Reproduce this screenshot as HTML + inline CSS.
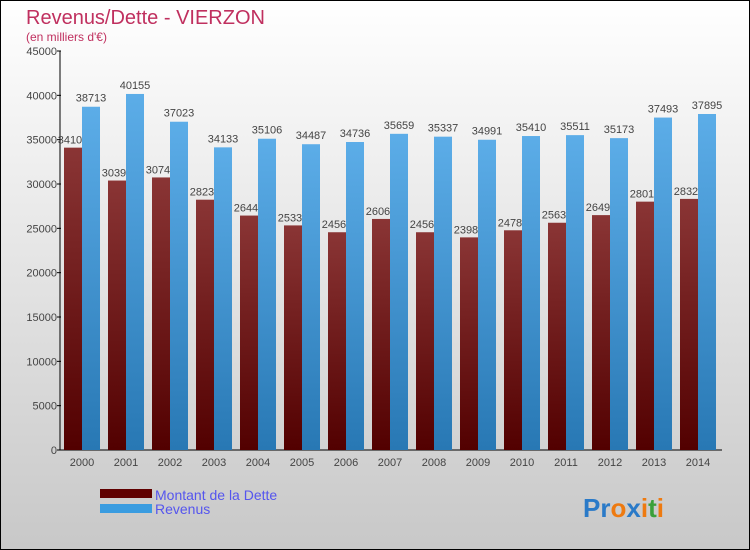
<!DOCTYPE html>
<html><head><meta charset="utf-8">
<style>
body{margin:0;width:750px;height:550px;overflow:hidden;font-family:"Liberation Sans",sans-serif}
svg{display:block}
</style></head><body>
<svg id="chart" width="750" height="550" xmlns="http://www.w3.org/2000/svg">
<defs>
<linearGradient id="bg" x1="0" y1="0" x2="0" y2="1"><stop offset="0" stop-color="#ffffff"/><stop offset="1" stop-color="#c8c8c8"/></linearGradient>
<linearGradient id="gd" x1="0" y1="0" x2="0" y2="1"><stop offset="0" stop-color="#8a3535"/><stop offset="1" stop-color="#520000"/></linearGradient>
<linearGradient id="gr" x1="0" y1="0" x2="0" y2="1"><stop offset="0" stop-color="#5cade8"/><stop offset="1" stop-color="#2878b4"/></linearGradient>
</defs>
<rect x="0.5" y="0.5" width="749" height="549" fill="url(#bg)" stroke="#000"/>
<text x="26" y="24" font-size="20" fill="#c0305f">Revenus/Dette - VIERZON</text>
<text x="26" y="41" font-size="12" fill="#c0305f">(en milliers d'€)</text>
<g id="plot"></g>
<g>
<rect x="100" y="489" width="52" height="9" fill="#600000"/>
<text x="155" y="500" font-size="14" fill="#5555ee">Montant de la Dette</text>
<rect x="100" y="504" width="52" height="9" fill="#3a9ce0"/>
<text x="155" y="514" font-size="14" fill="#5555ee">Revenus</text>
</g>
<text x="583" y="517" font-size="26" font-weight="bold"><tspan fill="#2a7ac8">Pr</tspan><tspan fill="#ee7a10">o</tspan><tspan fill="#2a7ac8">x</tspan><tspan fill="#ee7a10">i</tspan><tspan fill="#3aa03a">t</tspan><tspan fill="#ee7a10">i</tspan></text>
</svg>
<script>
const years=["2000","2001","2002","2003","2004","2005","2006","2007","2008","2009","2010","2011","2012","2013","2014"];
const debt=[34100,30390,30740,28230,26440,25330,24560,26060,24560,23980,24780,25630,26490,28010,28320];
const revenus=[38713,40155,37023,34133,35106,34487,34736,35659,35337,34991,35410,35511,35173,37493,37895];
const yTicks=[0,5000,10000,15000,20000,25000,30000,35000,40000,45000];
const NS="http://www.w3.org/2000/svg";
const g=document.getElementById('plot');
const y=v=>450-v*399/45000;
const xg=i=>60+i*44;
function mk(t,a,p){const e=document.createElementNS(NS,t);for(const k in a)e.setAttribute(k,a[k]);(p||g).appendChild(e);return e;}
// axes
let ax=mk('line',{x1:60,y1:51,x2:60,y2:450,stroke:'#000'});


let bx=mk('line',{x1:60,y1:450,x2:722,y2:450,stroke:'#000'});


yTicks.forEach(v=>{
  mk('line',{x1:57,y1:y(v),x2:61,y2:y(v),stroke:'#000'});
  const t=mk('text',{x:57,y:y(v)+4,'font-size':11,'text-anchor':'end',fill:'#444'});
  t.textContent=v;
  
  
});
years.forEach((yr,i)=>{
  const x0=xg(i)+4;
  const d=mk('rect',{x:x0,y:y(debt[i]),width:18,height:450-y(debt[i]),fill:'url(#gd)'});
  
  
  const dl=mk('text',{x:x0+9,y:y(debt[i])-4,'font-size':11,'text-anchor':'middle',fill:'#444'});
  dl.textContent=debt[i];
  
  
});
years.forEach((yr,i)=>{
  const x0=xg(i)+22;
  const r=mk('rect',{x:x0,y:y(revenus[i]),width:18,height:450-y(revenus[i]),fill:'url(#gr)'});
  
  
  const rl=mk('text',{x:x0+9,y:y(revenus[i])-5,'font-size':11,'text-anchor':'middle',fill:'#444'});
  rl.textContent=revenus[i];
  
  
  const xl=mk('text',{x:xg(i)+22,y:466,'font-size':11,'text-anchor':'middle',fill:'#444'});
  xl.textContent=yr;
  
  
});
</script>
</body></html>
